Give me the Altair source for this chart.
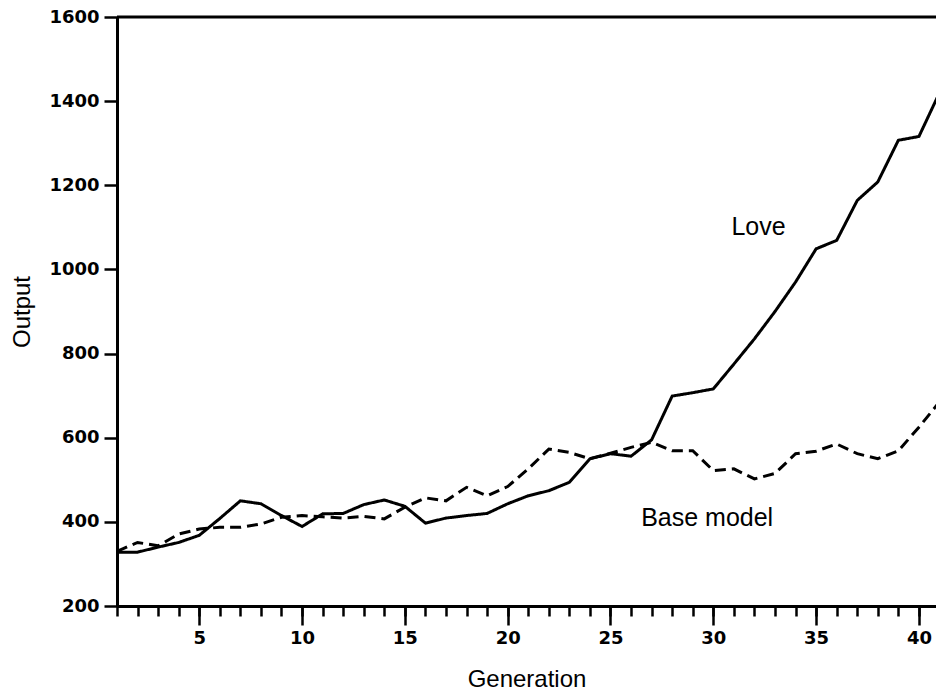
import altair as alt
import pandas as pd

# Output per generation for the two model variants
generation = list(range(1, 42))
love = [328, 328, 340, 351, 368, 408, 450, 443, 415, 389, 419, 420, 441, 452, 437,
        397, 409, 415, 420, 443, 462, 474, 494, 550, 562, 556, 595, 699, 707, 716,
        775, 835, 900, 970, 1049, 1069, 1164, 1208, 1307, 1316, 1420]
base_model = [330, 351, 343, 371, 383, 387, 387, 395, 411, 415, 412, 409, 413, 407, 435,
              457, 450, 482, 462, 484, 526, 573, 565, 550, 563, 577, 589, 569, 569, 522,
              526, 502, 515, 562, 568, 585, 562, 550, 569, 625, 685]

series_names = ["Love", "Base model"]
label_gen = [32.2, 29.7]
label_out = [1102, 410]

minor_ticks = list(range(1, 42))
major_ticks = list(range(5, 41, 5))
y_ticks = list(range(200, 1601, 200))

rows = []
for g, a, b in zip(generation, love, base_model):
    rows.append({"Generation": g, "Output": a, "Series": "Love"})
    rows.append({"Generation": g, "Output": b, "Series": "Base model"})
df = pd.DataFrame(rows)

labels = pd.DataFrame({"Generation": label_gen, "Output": label_out, "text": series_names})
border = pd.DataFrame({"Output": [1600]})

x_scale = alt.Scale(domain=[1, 40.83], nice=False, zero=False)
y_scale = alt.Scale(domain=[200, 1600], nice=False, zero=False)

axis_style = dict(
    grid=False,
    ticks=True,
    domain=True,
    domainColor="black",
    domainWidth=3,
    tickColor="black",
    tickWidth=2.5,
    labelFont="DejaVu Sans",
    labelFontSize=18,
    labelFontWeight="bold",
    labelColor="black",
    labelOverlap=False,
    labelFlush=False,
    titleFont="Liberation Sans",
    titleFontSize=24,
    titleFontWeight="normal",
    titleColor="black",
    format="d",
)

# every generation gets a short tick, every fifth a long labelled one
x_minor_axis = alt.Axis(
    orient="bottom", values=minor_ticks, tickSize=10, labels=False, title=None, **axis_style
)
x_major_axis = alt.Axis(
    orient="bottom", values=major_ticks, tickSize=19, labelPadding=4,
    title="Generation", titlePadding=20, **axis_style
)
y_axis = alt.Axis(
    orient="left", values=y_ticks, tickSize=13, labelPadding=5,
    title="Output", titlePadding=14, **axis_style
)

Y = alt.Y("Output:Q", scale=y_scale, axis=y_axis)

lines = alt.Chart(df).mark_line(color="black", strokeWidth=3, clip=True).encode(
    x=alt.X("Generation:Q", scale=x_scale, axis=x_minor_axis),
    y=Y,
    strokeDash=alt.StrokeDash(
        "Series:N",
        scale=alt.Scale(domain=series_names, range=[[1, 0], [11, 6]]),
        legend=None,
    ),
    detail="Series:N",
)

# top frame line at the top of the value range
top_border = alt.Chart(border).mark_rule(color="black", strokeWidth=3).encode(y=Y)

text = alt.Chart(labels).mark_text(
    font="Liberation Sans", fontSize=25, color="black", align="center", baseline="middle"
).encode(
    x=alt.X("Generation:Q", scale=x_scale, axis=x_major_axis),
    y=Y,
    text="text:N",
)

chart = alt.layer(lines, top_border, text).resolve_axis(
    x="independent"
).properties(
    width=819,
    height=589,
    autosize=alt.AutoSizeParams(type="none"),
    padding={"left": 117, "top": 17, "right": 0, "bottom": 90},
    background="white",
).configure_view(
    stroke=None
)

chart.save("out.html", embed_options={"renderer": "svg", "actions": False})
